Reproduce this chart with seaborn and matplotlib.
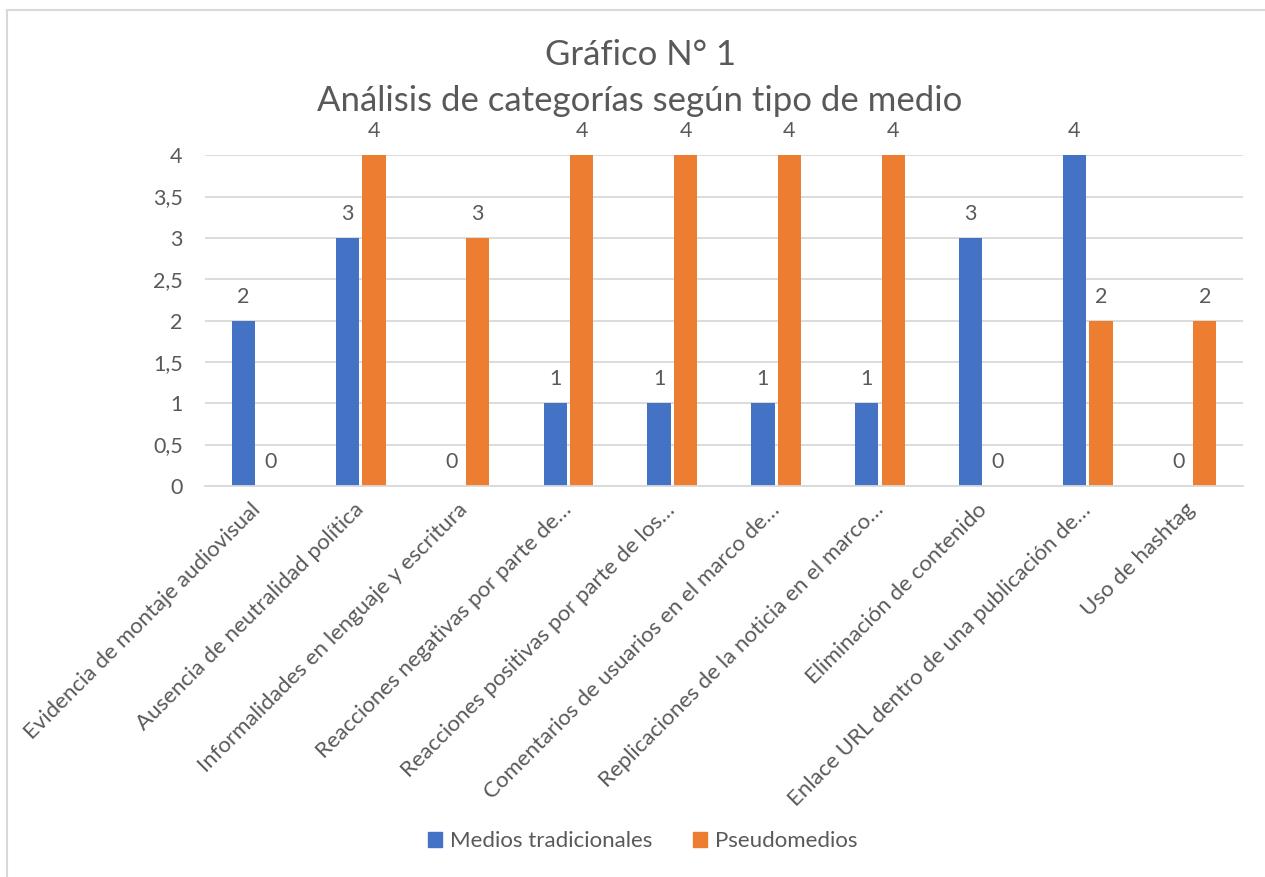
import matplotlib
matplotlib.use("Agg")
import matplotlib.pyplot as plt
import seaborn as sns
import pandas as pd
from matplotlib.ticker import FuncFormatter
from matplotlib.patches import Patch
from matplotlib.lines import Line2D

categories = [
    "Evidencia de montaje audiovisual",
    "Ausencia de neutralidad política",
    "Informalidades en lenguaje y escritura",
    "Reacciones negativas por parte de…",
    "Reacciones positivas por parte de los…",
    "Comentarios de usuarios en el marco de…",
    "Replicaciones de la noticia en el marco…",
    "Eliminación de contenido",
    "Enlace URL dentro de una publicación de…",
    "Uso de hashtag",
]
series_names = ["Medios tradicionales", "Pseudomedios"]
medios_tradicionales = [2, 3, 0, 1, 1, 1, 1, 3, 4, 0]
pseudomedios = [0, 4, 3, 4, 4, 4, 4, 0, 2, 2]
y_ticks = [0, 0.5, 1, 1.5, 2, 2.5, 3, 3.5, 4]
title_lines = ["Gráfico N° 1", "Análisis de categorías según tipo de medio"]

colors = ["#4472C4", "#ED7D31"]
text_color = "#595959"
grid_color = "#D9D9D9"

df = pd.DataFrame({
    "categoria": categories * 2,
    "serie": [series_names[0]] * len(categories) + [series_names[1]] * len(categories),
    "valor": medios_tradicionales + pseudomedios,
})

sns.set_theme(style="white")
plt.rcParams["font.family"] = ["Lato", "DejaVu Sans"]

fig = plt.figure(figsize=(12.65, 8.77), dpi=100)
ax = fig.add_axes([0.162, 0.446, 0.821, 0.377])

sns.barplot(data=df, x="categoria", y="valor", hue="serie", palette=colors,
            width=0.51, gap=0.12, ax=ax, legend=False, saturation=1, order=categories,
            linewidth=0)

for cont in ax.containers:
    ax.bar_label(cont, labels=[f"{int(b.get_height())}" for b in cont],
                 padding=10, fontsize=15.5, color=text_color)

ax.set_xlim(-0.5, len(categories) - 0.5)
ax.set_ylim(0, 4)
ax.set_yticks(y_ticks)
ax.yaxis.set_major_formatter(FuncFormatter(lambda v, p: f"{v:g}".replace(".", ",")))
ax.yaxis.grid(True, color=grid_color, lw=1.3)
ax.set_axisbelow(True)
ax.tick_params(axis="y", length=0, pad=16, labelsize=15.5, labelcolor=text_color)
ax.tick_params(axis="x", length=0, pad=15, labelsize=16, labelcolor=text_color)
for lbl in ax.get_xticklabels():
    lbl.set_rotation(45)
    lbl.set_ha("right")
    lbl.set_va("center")
    lbl.set_rotation_mode("anchor")
for s in ["top", "right", "left"]:
    ax.spines[s].set_visible(False)
ax.spines["bottom"].set_color(grid_color)
ax.spines["bottom"].set_linewidth(1.3)
ax.set_xlabel("")
ax.set_ylabel("")

fig.text(0.506, 0.937, title_lines[0], ha="center", va="center",
         fontsize=25, color=text_color)
fig.text(0.506, 0.885, title_lines[1], ha="center", va="center",
         fontsize=25, color=text_color)

handles = [Patch(facecolor=c, edgecolor=c) for c in colors]
fig.legend(handles, series_names, loc="center", bbox_to_anchor=(0.508, 0.041),
           ncol=2, frameon=False, fontsize=16, handlelength=0.65, handleheight=0.65,
           handletextpad=0.35, columnspacing=1.8, labelcolor=text_color)

fig.add_artist(Line2D([0.0055, 0.0055], [0, 0.9886], transform=fig.transFigure,
                      color=grid_color, lw=1.5))
fig.add_artist(Line2D([0.0055, 1], [0.9886, 0.9886], transform=fig.transFigure,
                      color=grid_color, lw=1.5))

fig.savefig("out.png", dpi=100, facecolor="white")
